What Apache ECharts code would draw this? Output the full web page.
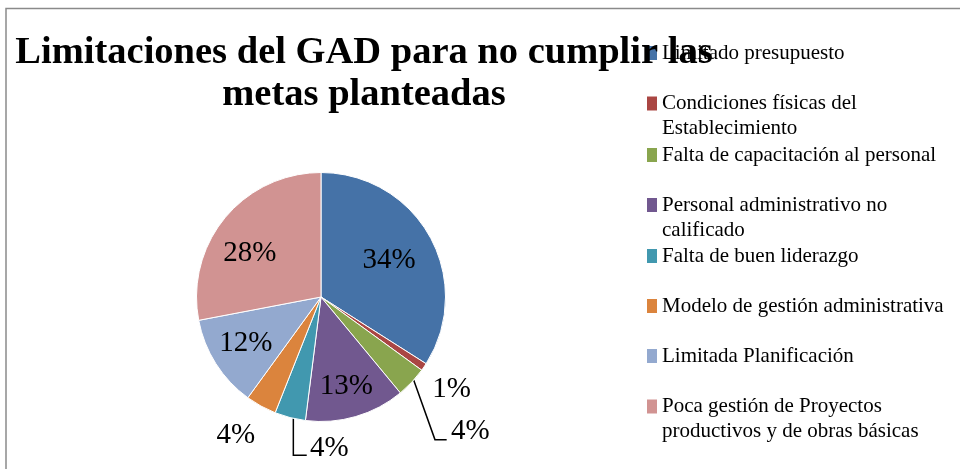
<!DOCTYPE html>
<html>
<head>
<meta charset="utf-8">
<script src="https://cdn.jsdelivr.net/npm/echarts@6/dist/echarts.min.js"></script>
<style>
  html, body { margin: 0; padding: 0; background: #fff; }
  #chart { width: 960px; height: 469px; }
</style>
</head>
<body>
<div id="chart"></div>
<script>
// categories and shares (%)
const categories = [
  "Limitado presupuesto",
  "Condiciones físicas del\nEstablecimiento",
  "Falta de capacitación al personal",
  "Personal administrativo no\ncalificado",
  "Falta de buen liderazgo",
  "Modelo de gestión administrativa",
  "Limitada Planificación",
  "Poca gestión de Proyectos\nproductivos y de obras básicas"
];
const shares = [34, 1, 4, 13, 4, 4, 12, 28];
const colors = ["#4572A7", "#AA4643", "#89A54E", "#71588F", "#4198AF", "#DB843D", "#93A9CF", "#D19392"];

const serif = "'Liberation Serif', 'Times New Roman', serif";

// legend rows: y of the marker centre for each item
const legendRows = [53, 103.5, 155, 205, 256, 306, 356, 406.5];

// which labels sit outside the pie
const outside = [1, 2, 4, 5];
const withLine = [2, 4];

// nudges for the inside labels
const insideShift = { 0: [11, -5], 3: [7, 27], 6: [-20, 11], 7: [-21, -2] };

const chart = echarts.init(document.getElementById("chart"));

const pieData = categories.map((name, i) => ({
  name: name,
  value: shares[i],
  itemStyle: { color: colors[i] },
  label: { position: outside.includes(i) ? "outside" : "inside" },
  labelLine: {
    show: outside.includes(i),
    lineStyle: { opacity: withLine.includes(i) ? 1 : 0 }
  }
}));

const legends = categories.map((name, i) => {
  const twoLines = name.indexOf("\n") >= 0;
  return {
    orient: "vertical",
    left: 647,
    top: legendRows[i] - (twoLines ? 37.5 : 12.5),
    padding: 0,
    itemWidth: 10,
    itemHeight: 14,
    icon: "rect",
    selectedMode: false,
    itemStyle: { borderWidth: 0, borderColor: "transparent" },
    data: [name],
    // blank first line so the marker lines up with the first text line
    formatter: n => (twoLines ? "\u00a0\n" + n : n),
    textStyle: {
      fontFamily: serif,
      fontSize: 21,
      lineHeight: 25,
      color: "#000"
    }
  };
});

const labelLayout = function (params) {
  const i = params.dataIndex;
  if (insideShift[i]) {
    return { dx: insideShift[i][0], dy: insideShift[i][1] };
  }
  const p = params.labelLinePoints[0];
  if (i === 1) {
    return { x: p[0] + 27.5, y: p[1] + 22, align: "center", verticalAlign: "middle" };
  }
  if (i === 2) {
    return {
      x: p[0] + 58.5, y: p[1] + 49, align: "center", verticalAlign: "middle",
      labelLinePoints: [[p[0] + 2, p[1] - 2], [p[0] + 23.2, p[1] + 57.4], [p[0] + 34.9, p[1] + 57.4]]
    };
  }
  if (i === 4) {
    return {
      x: p[0] + 39.2, y: p[1] + 31, align: "center", verticalAlign: "middle",
      labelLinePoints: [[p[0] + 3.3, p[1] + 1], [p[0] + 3.3, p[1] + 37.7], [p[0] + 16.7, p[1] + 37.7]]
    };
  }
  return { x: p[0] - 25.2, y: p[1] + 29, align: "center", verticalAlign: "middle" };
};

const option = {
  backgroundColor: "#fff",
  animation: false,
  title: {
    text: "Limitaciones del GAD para no cumplir las\nmetas planteadas",
    left: 364,
    top: 32.5,
    textAlign: "center",
    padding: 0,
    textStyle: {
      fontFamily: serif,
      fontSize: 38.5,
      fontWeight: "bold",
      lineHeight: 42,
      color: "#000"
    }
  },
  legend: legends,
  graphic: [{
    type: "rect",
    shape: { x: 6, y: 8.5, width: 1000, height: 500 },
    style: { fill: "none", stroke: "#8a8a8a", lineWidth: 1.5 },
    silent: true,
    z: -1
  }],
  series: [{
    type: "pie",
    center: [321, 297],
    radius: 124.5,
    startAngle: 90,
    clockwise: true,
    avoidLabelOverlap: false,
    minShowLabelAngle: 0,
    itemStyle: { borderColor: "#fff", borderWidth: 1 },
    emphasis: { disabled: true },
    label: {
      formatter: "{c}%",
      fontFamily: serif,
      fontSize: 29,
      color: "#000"
    },
    labelLine: {
      length: 20,
      length2: 10,
      lineStyle: { color: "#000", width: 1.5 }
    },
    labelLayout: labelLayout,
    data: pieData
  }]
};

chart.setOption(option);
</script>
</body>
</html>
